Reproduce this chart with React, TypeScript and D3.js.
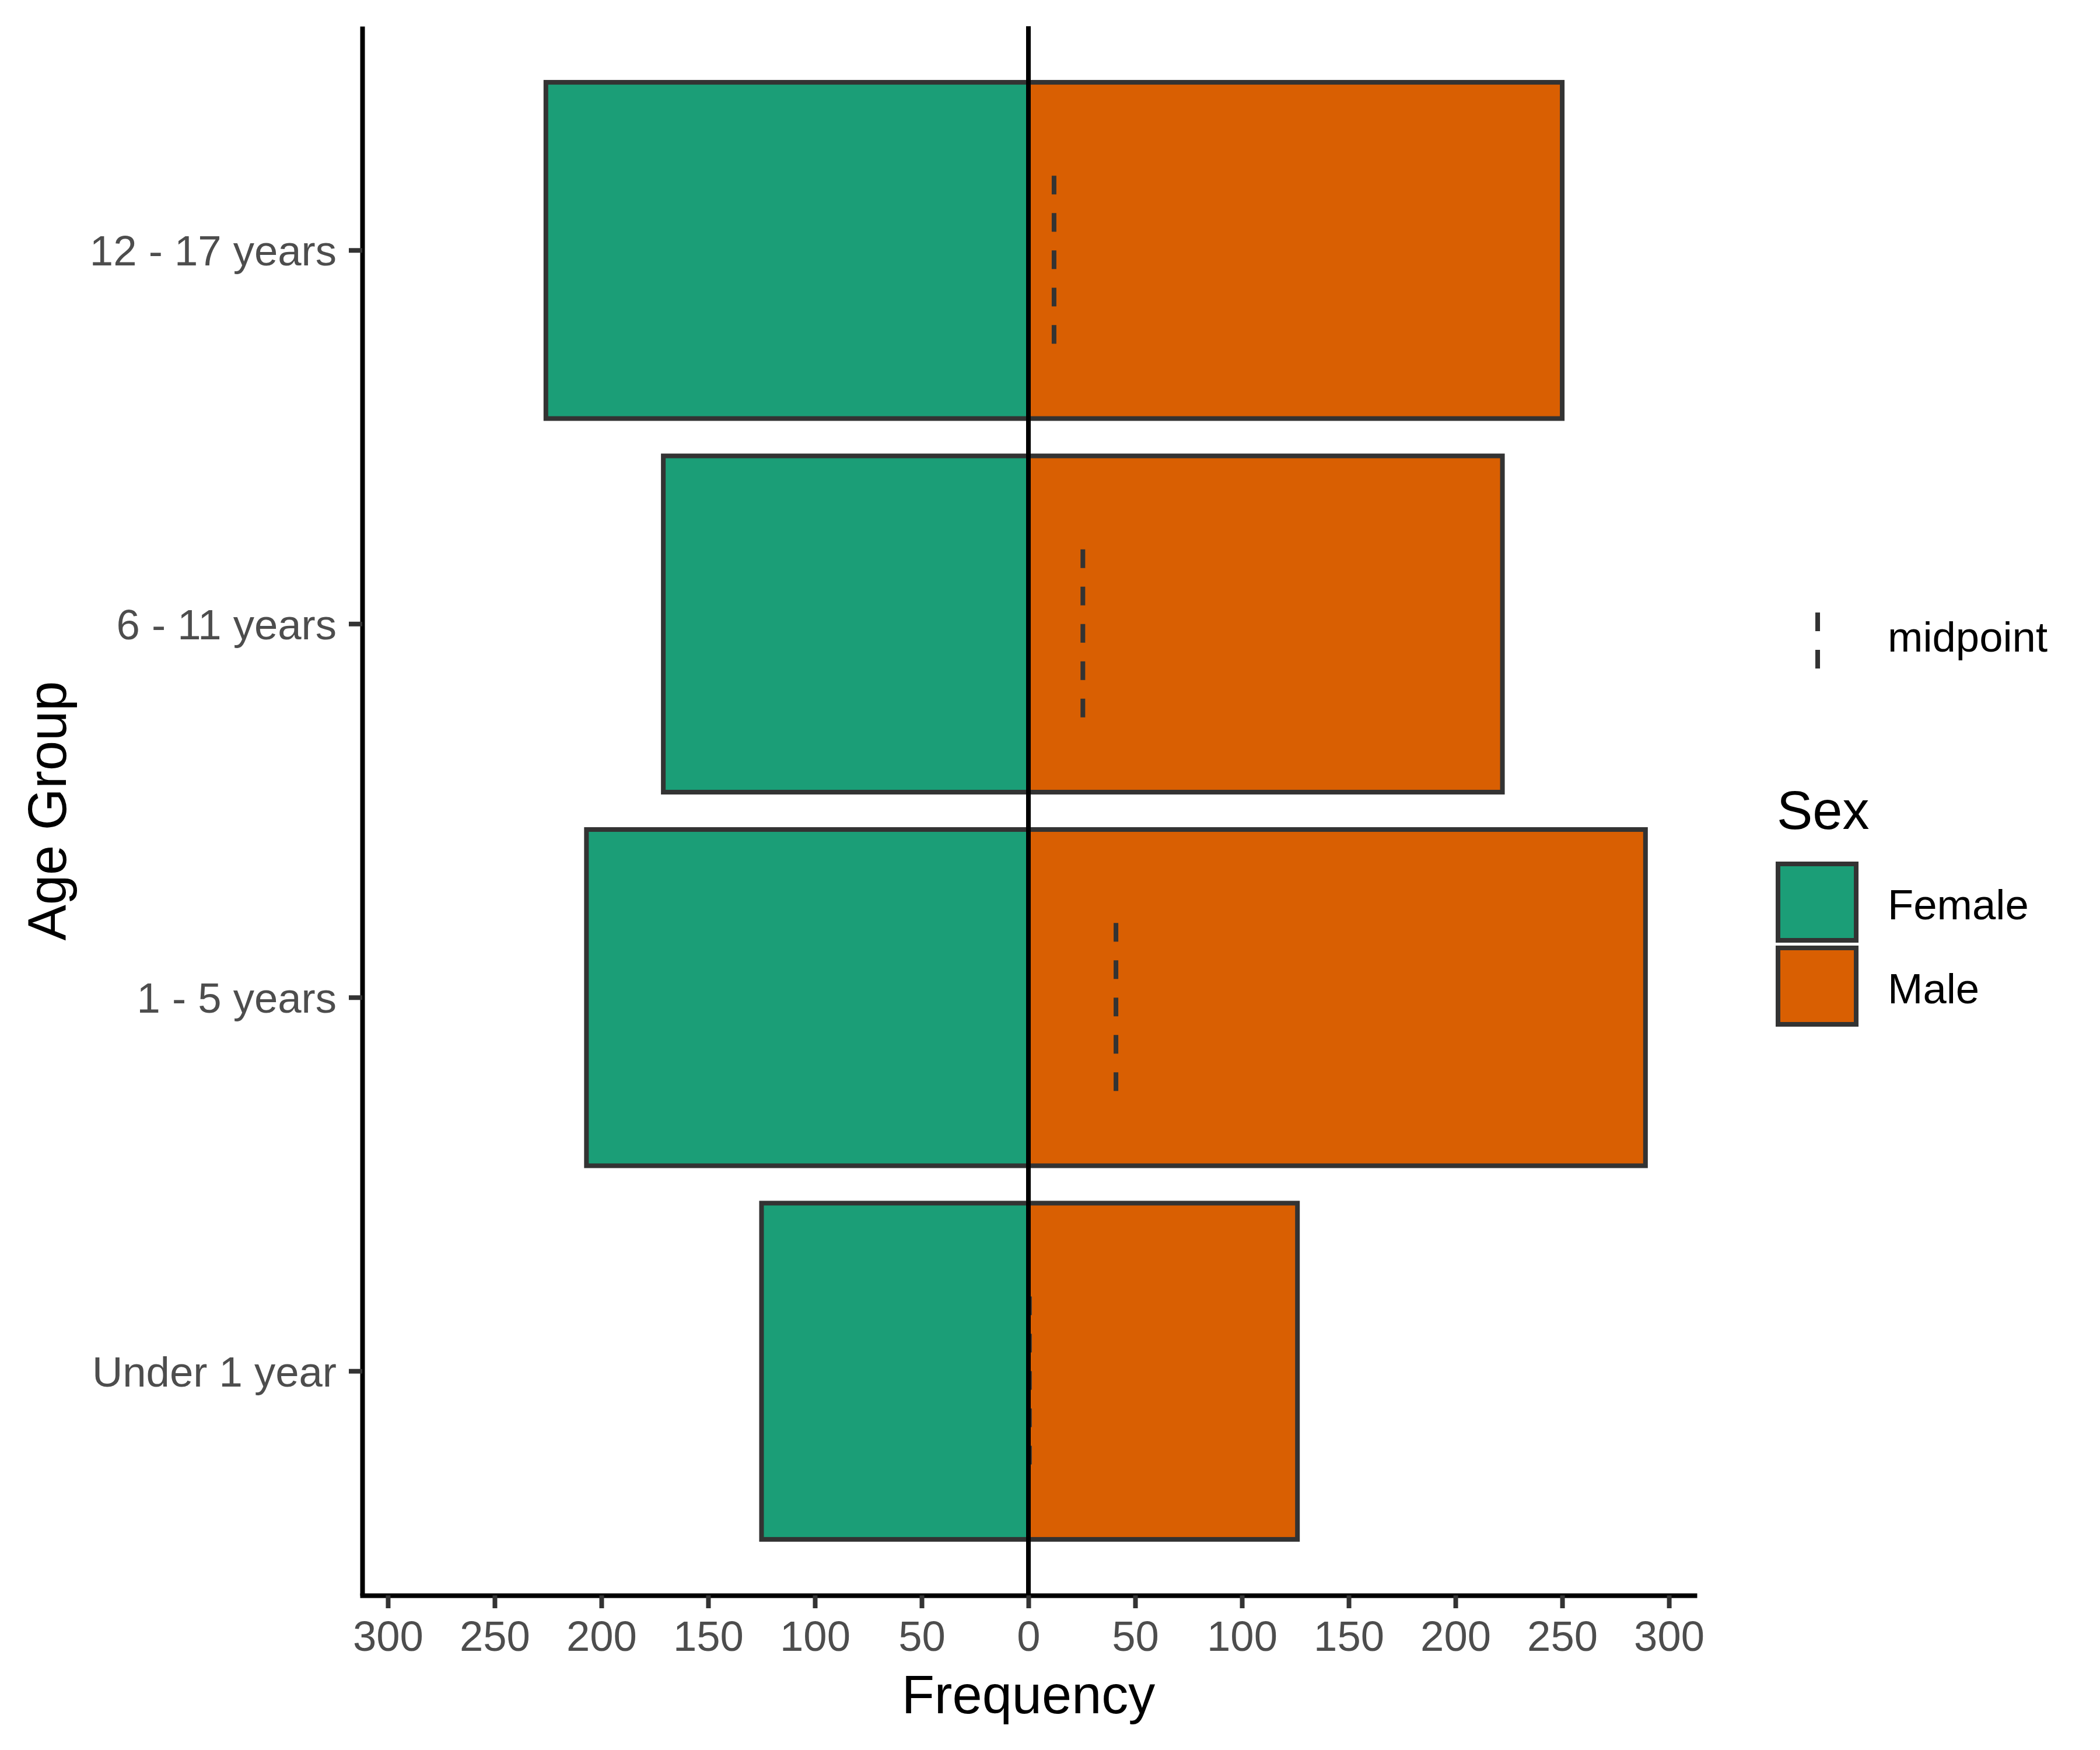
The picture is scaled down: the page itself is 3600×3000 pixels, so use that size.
import { useEffect, useRef } from "react";
import * as d3 from "d3";

// age groups, top to bottom
const ageGroups = ["12 - 17 years", "6 - 11 years", "1 - 5 years", "Under 1 year"];
const femaleCounts = [226, 171, 207, 125];
const maleCounts = [250, 222, 289, 126];
const midpoints = [12, 25.5, 41, 0.5];

const sexes = ["Female", "Male"];
const sexColors = ["#1B9E77", "#D95F02"];

const xTicks = [-300, -250, -200, -150, -100, -50, 0, 50, 100, 150, 200, 250, 300];

const W = 3600;
const H = 3000;
const FONT = "'Liberation Sans', Arial, Helvetica, sans-serif";
const SMALL = 72.5;

const PopulationPyramid = () => {
  const ref = useRef<SVGSVGElement>(null);

  useEffect(() => {
    const svg = d3.select(ref.current);
    svg.selectAll("*").remove();

    const left = 621;
    const right = 2905;
    const top = 45;
    const bottom = 2735;

    const x = d3.scaleLinear().domain([-312, 312]).range([left, right]);
    const y = d3
      .scaleBand()
      .domain(ageGroups)
      .range([top, bottom])
      .paddingInner(0.1)
      .paddingOuter(0.15);
    const step = y.step();

    svg.append("rect").attr("width", W).attr("height", H).attr("fill", "#FFFFFF");

    const g = svg.append("g");

    // female bars (left side)
    g.selectAll(".female")
      .data(ageGroups)
      .enter()
      .append("rect")
      .attr("x", (d, i) => x(-femaleCounts[i]))
      .attr("y", (d) => y(d))
      .attr("width", (d, i) => x(0) - x(-femaleCounts[i]))
      .attr("height", y.bandwidth())
      .attr("fill", sexColors[0])
      .attr("stroke", "#333333")
      .attr("stroke-width", 8);

    // male bars (right side)
    g.selectAll(".male")
      .data(ageGroups)
      .enter()
      .append("rect")
      .attr("x", x(0))
      .attr("y", (d) => y(d))
      .attr("width", (d, i) => x(maleCounts[i]) - x(0))
      .attr("height", y.bandwidth())
      .attr("fill", sexColors[1])
      .attr("stroke", "#333333")
      .attr("stroke-width", 8);

    // midpoint dashes
    g.selectAll(".mid")
      .data(ageGroups)
      .enter()
      .append("line")
      .attr("x1", (d, i) => x(midpoints[i]))
      .attr("x2", (d, i) => x(midpoints[i]))
      .attr("y1", (d) => y(d) + y.bandwidth() / 2 - 0.2 * step)
      .attr("y2", (d) => y(d) + y.bandwidth() / 2 + 0.25 * step)
      .attr("stroke", "#333333")
      .attr("stroke-width", 8)
      .attr("stroke-dasharray", "32,32");

    // zero line
    g.append("line")
      .attr("x1", x(0))
      .attr("x2", x(0))
      .attr("y1", top)
      .attr("y2", bottom)
      .attr("stroke", "#000000")
      .attr("stroke-width", 8);

    // x axis
    const xAxis = svg
      .append("g")
      .attr("transform", `translate(0,${bottom})`)
      .call(
        d3
          .axisBottom(x)
          .tickValues(xTicks)
          .tickFormat((d) => String(Math.abs(+d)))
          .tickSize(22)
          .tickSizeOuter(0)
          .tickPadding(22)
      );
    xAxis.select(".domain").attr("stroke", "#000000").attr("stroke-width", 8).attr("stroke-linecap", "square");
    xAxis.selectAll(".tick line").attr("stroke", "#333333").attr("stroke-width", 8);
    xAxis
      .selectAll(".tick text")
      .attr("fill", "#4D4D4D")
      .attr("font-size", SMALL)
      .attr("font-family", FONT);

    // y axis
    const yAxis = svg
      .append("g")
      .attr("transform", `translate(${left},0)`)
      .call(d3.axisLeft(y).tickSize(23).tickSizeOuter(0).tickPadding(21));
    yAxis.select(".domain").attr("stroke", "#000000").attr("stroke-width", 8);
    yAxis.selectAll(".tick line").attr("stroke", "#333333").attr("stroke-width", 8);
    yAxis
      .selectAll(".tick text")
      .attr("fill", "#4D4D4D")
      .attr("font-size", SMALL)
      .attr("font-family", FONT)
      .attr("dy", "0.36em");

    // axis titles
    svg
      .append("text")
      .attr("x", (left + right) / 2)
      .attr("y", 2937)
      .attr("text-anchor", "middle")
      .attr("font-size", 92)
      .attr("font-family", FONT)
      .attr("fill", "#000000")
      .text("Frequency");

    svg
      .append("text")
      .attr("transform", `translate(113,${(top + bottom) / 2}) rotate(-90)`)
      .attr("text-anchor", "middle")
      .attr("font-size", 92)
      .attr("font-family", FONT)
      .attr("fill", "#000000")
      .text("Age Group");

    // legend: midpoint
    const leg = svg.append("g");
    leg
      .append("line")
      .attr("x1", 3116)
      .attr("x2", 3116)
      .attr("y1", 1050)
      .attr("y2", 1146)
      .attr("stroke", "#333333")
      .attr("stroke-width", 8)
      .attr("stroke-dasharray", "32,32");
    leg
      .append("text")
      .attr("x", 3236)
      .attr("y", 1117)
      .attr("font-size", SMALL)
      .attr("font-family", FONT)
      .attr("fill", "#000000")
      .text("midpoint");

    // legend: sex
    leg
      .append("text")
      .attr("x", 3046)
      .attr("y", 1421)
      .attr("font-size", 92)
      .attr("font-family", FONT)
      .attr("fill", "#000000")
      .text("Sex");

    const keys = leg
      .selectAll(".key")
      .data(sexes)
      .enter()
      .append("g")
      .attr("transform", (d, i) => `translate(3048,${1481 + i * 144})`);
    keys
      .append("rect")
      .attr("width", 134)
      .attr("height", 131)
      .attr("fill", (d, i) => sexColors[i])
      .attr("stroke", "#333333")
      .attr("stroke-width", 8);
    keys
      .append("text")
      .attr("x", 188)
      .attr("y", 95)
      .attr("font-size", SMALL)
      .attr("font-family", FONT)
      .attr("fill", "#000000")
      .text((d) => d);
  }, []);

  return (
    <svg
      ref={ref}
      width={W}
      height={H}
      viewBox={`0 0 ${W} ${H}`}
      style={{ position: "absolute", left: 0, top: 0, display: "block" }}
    />
  );
};

export default function App() {
  return <PopulationPyramid />;
}
